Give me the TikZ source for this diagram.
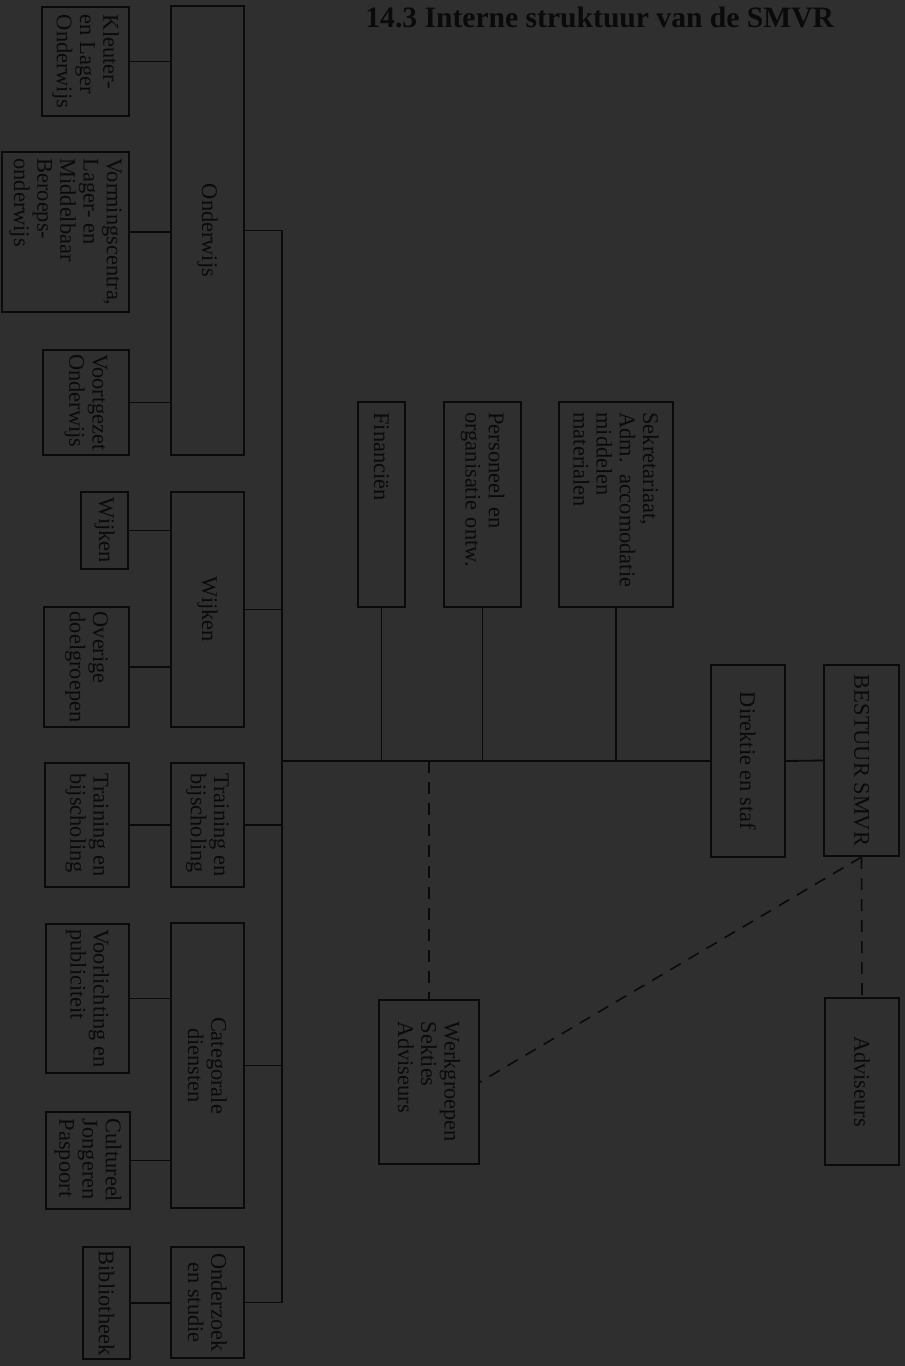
\documentclass[tikz,border=0pt]{standalone}
\usepackage{fontspec}
\setmainfont{Liberation Serif}
\definecolor{paper}{RGB}{47,47,47}
\definecolor{ink}{RGB}{10,10,10}
% boxes are turned a quarter clockwise: north = right side, east = bottom side
\tikzset{
  unit/.style 2 args={draw=ink, line width=1pt, rotate=-90, inner sep=0pt,
    minimum width=#1*0.5pt, minimum height=#2*0.5pt, text=ink, align=left,
    font=\fontsize{11.2}{11.6}\selectfont},
  staff/.style={unit={205}{#1}, text width=92pt, inner xsep=5.25pt},
  lnk/.style={draw=ink, line width=0.9pt},
  advline/.style={draw=ink, line width=0.8pt, dash pattern=on 6pt off 4.5pt}
}
\begin{document}
\begin{tikzpicture}[x=0.5pt,y=-0.5pt]
  \useasboundingbox (0,0) rectangle (905,1366);
  \fill[paper] (0,0) rectangle (905,1366);
  \node[anchor=base west, inner sep=0pt, text=ink,
    font=\fontsize{14.8}{16}\selectfont\bfseries] (title) at (365,27) {14.3 Interne struktuur van de SMVR};
  % top of the chart
  \node[unit={191}{75}] (bestuur) at (861.5,760.5) {BESTUUR SMVR};
  \node[unit={192}{74}] (direktie) at (748,761) {Direktie en staf};
  \node[unit={167}{74}] (adviseurs) at (862,1081.5) {Adviseurs};
  \node[unit={164}{100}] (werk) at (429,1082) {Werkgroepen\\Sekties\\Adviseurs};
  % staff
  \node[staff=114] (sek) at (616,504.5) {Sekretariaat,\\Adm. accomodatie\\middelen\\materialen};
  \node[staff=77] (pers) at (482.5,504.5) {Personeel en\\organisatie ontw.};
  \node[staff=47] (fin) at (381.5,504.5) {Financiën};
  % departments
  \node[unit={449}{73}] (onderwijs) at (207.5,230.5) {Onderwijs};
  \node[unit={235}{73}] (wijken) at (207.5,609.5) {Wijken};
  \node[unit={124}{73}] (training) at (207.5,825) {Training en\\bijscholing};
  \node[unit={285}{73}, align=center] (categ) at (207.5,1065.5) {Categorale\\diensten};
  \node[unit={111}{73}, align=center] (onderzoek) at (207.5,1302.5) {Onderzoek\\en studie};
  % sections
  \node[unit={109}{87}] (kleuter) at (85.5,61.5) {Kleuter-\\en Lager\\Onderwijs};
  \node[unit={160}{127}] (vorming) at (65.5,232) {Vormingscentra,\\Lager- en\\Middelbaar\\Beroeps-\\onderwijs};
  \node[unit={105}{86}] (voortgezet) at (86,402.5) {Voortgezet\\Onderwijs};
  \node[unit={77}{47}] (wijk) at (104.5,530.5) {Wijken};
  \node[unit={120}{85}] (overige) at (86.5,667) {Overige\\doelgroepen};
  \node[unit={124}{84}] (bijscholing) at (87,825) {Training en\\bijscholing};
  \node[unit={149}{83}] (voorl) at (87.5,998.5) {Voorlichting en\\publiciteit};
  \node[unit={97}{84}] (cultureel) at (88,1160.5) {Cultureel\\Jongeren\\Paspoort};
  \node[unit={112}{47}] (biblio) at (106.5,1303) {Bibliotheek};
  % lines
  \coordinate (spine) at (282,0);
  \foreach \c/\p in {kleuter/onderwijs,vorming/onderwijs,voortgezet/onderwijs,
      wijk/wijken,overige/wijken,bijscholing/training,voorl/categ,
      cultureel/categ,biblio/onderzoek}
    \draw[lnk] (\c.north) -- (\c.north -| \p.south);
  \draw[lnk] (onderwijs.north) -- (onderwijs.north -| spine)
    -- (onderzoek.north -| spine) -- (onderzoek.north);
  \foreach \p in {wijken,training,categ}
    \draw[lnk] (\p.north) -- (\p.north -| spine);
  \draw[lnk] (direktie.south -| spine) -- (direktie.south);
  \draw[lnk] (direktie.north) -- (bestuur.south);
  \foreach \s in {fin,pers,sek}
    \draw[lnk] (\s.east) -- (\s.east |- direktie.south);
  \draw[advline] (werk.west |- direktie.south) -- (werk.west);
  \draw[advline] (bestuur.east) -- (adviseurs.west);
  \draw[advline] (bestuur.east) -- (werk.north);
\end{tikzpicture}
\end{document}
